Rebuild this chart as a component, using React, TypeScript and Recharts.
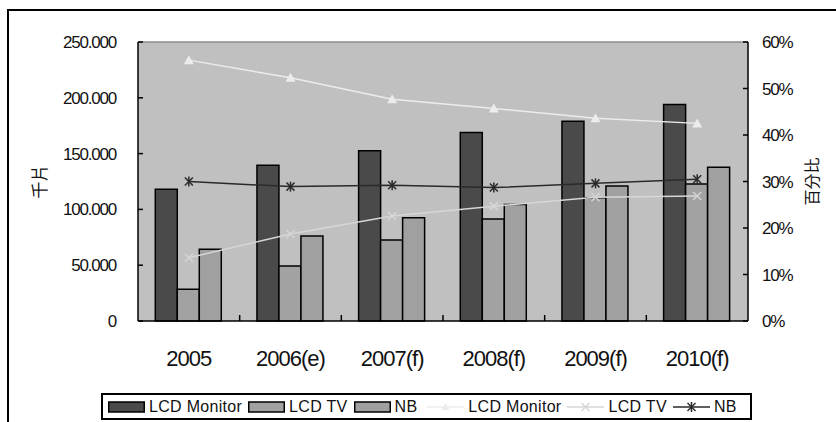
import {
  Bar,
  CartesianGrid,
  ComposedChart,
  Label,
  Legend,
  Line,
  ReferenceLine,
  XAxis,
  YAxis,
} from "recharts";

const years = ["2005", "2006(e)", "2007(f)", "2008(f)", "2009(f)", "2010(f)"];
// shipments, thousand pieces (left axis)
const monitorUnits = [118000, 139500, 152500, 169000, 179000, 194000];
const tvUnits = [28500, 49300, 72600, 91400, 110500, 122800];
const nbUnits = [64200, 76200, 92600, 104500, 121000, 137700];
// share, percent (right axis)
const monitorShare = [56.1, 52.3, 47.7, 45.7, 43.6, 42.5];
const tvShare = [13.6, 18.7, 22.6, 24.7, 26.6, 26.9];
const nbShare = [30.0, 28.9, 29.2, 28.7, 29.6, 30.5];

const unitTicks = [0, 50000, 100000, 150000, 200000, 250000];
const shareTicks = [0, 10, 20, 30, 40, 50, 60];

const seriesOrder = ["monitor", "tv", "nb", "monitorShare", "tvShare", "nbShare"];

const data = years.map((year, i) => ({
  year,
  monitor: monitorUnits[i],
  tv: tvUnits[i],
  nb: nbUnits[i],
  monitorShare: monitorShare[i],
  tvShare: tvShare[i],
  nbShare: nbShare[i],
}));

const FONT = '"Liberation Sans", Arial, sans-serif';
const CJK = '"Noto Sans CJK TC", "Noto Sans CJK SC", sans-serif';

const fmtUnits = (v: number) => v.toLocaleString("de-DE");

function YearTick(props: any) {
  const { x, y, payload, index } = props;
  const half = payload?.offset ?? 0;
  return (
    <g>
      {index > 0 && half > 0 && (
        <line x1={x - half} x2={x - half} y1={y} y2={y - 6} stroke="#000" strokeWidth={1.5} />
      )}
      <text x={x} y={y + 45} textAnchor="middle" fontSize={22} letterSpacing={-1} fontFamily={FONT} fill="#111">
        {payload.value}
      </text>
    </g>
  );
}

function Triangle({ cx, cy, fill, size = 5 }: any) {
  return <polygon points={`${cx},${cy - size} ${cx - size},${cy + size - 1} ${cx + size},${cy + size - 1}`} fill={fill} />;
}

function Cross({ cx, cy, stroke, size = 4 }: any) {
  return (
    <g stroke={stroke} strokeWidth={1.5}>
      <line x1={cx - size} y1={cy - size} x2={cx + size} y2={cy + size} />
      <line x1={cx - size} y1={cy + size} x2={cx + size} y2={cy - size} />
    </g>
  );
}

function Star({ cx, cy, stroke, size = 4 }: any) {
  return (
    <g stroke={stroke} strokeWidth={1.5}>
      <line x1={cx - size} y1={cy - size} x2={cx + size} y2={cy + size} />
      <line x1={cx - size} y1={cy + size} x2={cx + size} y2={cy - size} />
      <line x1={cx} y1={cy - size - 1} x2={cx} y2={cy + size + 1} />
    </g>
  );
}

const markerFor: Record<string, (p: any) => any> = {
  monitorShare: (p) => <Triangle {...p} />,
  tvShare: (p) => <Cross {...p} />,
  nbShare: (p) => <Star {...p} />,
};

function LegendBox(props: any) {
  const items = [...(props.payload ?? [])].sort(
    (a: any, b: any) => seriesOrder.indexOf(a.dataKey) - seriesOrder.indexOf(b.dataKey)
  );
  return (
    <div
      style={{
        height: 27,
        boxSizing: "border-box",
        border: "2px solid #000",
        display: "flex",
        alignItems: "center",
        paddingLeft: 5,
        background: "#fff",
        fontFamily: FONT,
        fontSize: 16,
        letterSpacing: 0.3,
        color: "#111",
        whiteSpace: "nowrap",
      }}
    >
      {items.map((it: any, i: number) => {
        const isLine = it.type === "line";
        const mark = markerFor[it.dataKey];
        return (
          <div key={i} style={{ display: "flex", alignItems: "center", marginRight: it.dataKey === "nb" ? 10 : 6 }}>
            <svg width={37} height={14} style={{ marginRight: 4 }}>
              {isLine ? (
                <g>
                  <line x1={0} x2={37} y1={7} y2={7} stroke={it.color} strokeWidth={1.5} />
                  {mark && mark({ cx: 18.5, cy: 7, fill: it.color, stroke: it.color, size: 4 })}
                </g>
              ) : (
                <rect x={0.75} y={2} width={35.5} height={10} fill={it.color} stroke="#000" strokeWidth={1.5} />
              )}
            </svg>
            <span>{it.value}</span>
          </div>
        );
      })}
    </div>
  );
}

export default function App() {
  return (
    <div
      style={{
        position: "fixed",
        left: 0,
        top: 0,
        width: 836,
        height: 422,
        overflow: "hidden",
        background: "#fff",
        fontFamily: FONT,
      }}
    >
      <div
        style={{
          position: "absolute",
          left: 7,
          top: 9,
          width: 900,
          height: 500,
          border: "2px solid #000",
          boxSizing: "border-box",
        }}
      />
      <div style={{ position: "absolute", left: 0, top: 0 }}>
        <ComposedChart
          width={836}
          height={422}
          data={data}
          margin={{ top: 42, right: 0, bottom: 2, left: 0 }}
          barCategoryGap="17%"
          barGap={0}
        >
          <CartesianGrid yAxisId="left" fill="#c0c0c0" horizontal={false} vertical={false} />
          <XAxis
            dataKey="year"
            height={72}
            tickSize={0}
            tickMargin={0}
            tickLine={false}
            axisLine={{ stroke: "#000", strokeWidth: 1.5 }}
            tick={<YearTick />}
            interval={0}
          />
          <YAxis
            yAxisId="left"
            width={138}
            domain={[0, 250000]}
            ticks={unitTicks}
            tickFormatter={fmtUnits}
            tickSize={-5}
            tickMargin={27}
            axisLine={{ stroke: "#000", strokeWidth: 1.5 }}
            tickLine={{ stroke: "#000", strokeWidth: 1.5 }}
            tick={{ fontSize: 17, fill: "#111", fontFamily: FONT, letterSpacing: -1.2 }}
          >
            <Label
              content={(p: any) => {
                const vb = p.viewBox;
                const cx = vb.x + 38;
                const cy = vb.y + vb.height / 2;
                return (
                  <text x={cx} y={cy} transform={`rotate(-90 ${cx} ${cy})`} textAnchor="middle" dominantBaseline="central" fontSize={17} fontFamily={CJK} fill="#111">
                    千片
                  </text>
                );
              }}
            />
          </YAxis>
          <YAxis
            yAxisId="right"
            orientation="right"
            width={88}
            domain={[0, 60]}
            ticks={shareTicks}
            tickFormatter={(v: number) => `${v}%`}
            tickSize={-5}
            tickMargin={19}
            axisLine={{ stroke: "#000", strokeWidth: 1.5 }}
            tickLine={{ stroke: "#000", strokeWidth: 1.5 }}
            tick={{ fontSize: 17, fill: "#111", fontFamily: FONT, letterSpacing: -1.2 }}
          >
            <Label
              content={(p: any) => {
                const vb = p.viewBox;
                const cx = vb.x + 63;
                const cy = vb.y + vb.height / 2;
                return (
                  <text x={cx} y={cy} transform={`rotate(-90 ${cx} ${cy})`} textAnchor="middle" dominantBaseline="central" fontSize={16} fontFamily={CJK} fill="#111">
                    百分比
                  </text>
                );
              }}
            />
          </YAxis>
          <ReferenceLine yAxisId="left" y={250000} stroke="#8c8c8c" strokeWidth={1.5} />
          <Legend
            verticalAlign="bottom"
            content={<LegendBox />}
            wrapperStyle={{ left: 101, bottom: 2, width: 651, height: 27 }}
          />
          <Bar yAxisId="left" dataKey="monitor" name="LCD Monitor" fill="#4a4a4a" stroke="#000" strokeWidth={1.5} legendType="rect" isAnimationActive={false} />
          <Bar yAxisId="left" dataKey="tv" name="LCD TV" fill="#a2a2a2" stroke="#000" strokeWidth={1.5} legendType="rect" isAnimationActive={false} />
          <Bar yAxisId="left" dataKey="nb" name="NB" fill="#a0a0a0" stroke="#000" strokeWidth={1.5} legendType="rect" isAnimationActive={false} />
          <Line
            yAxisId="right"
            dataKey="monitorShare"
            name="LCD Monitor"
            stroke="#ececec"
            strokeWidth={1.5}
            legendType="line"
            dot={(p: any) => <Triangle key={p.index} cx={p.cx} cy={p.cy} fill="#ececec" />}
            isAnimationActive={false}
          />
          <Line
            yAxisId="right"
            dataKey="tvShare"
            name="LCD TV"
            stroke="#d6d6d6"
            strokeWidth={1.5}
            legendType="line"
            dot={(p: any) => <Cross key={p.index} cx={p.cx} cy={p.cy} stroke="#d6d6d6" />}
            isAnimationActive={false}
          />
          <Line
            yAxisId="right"
            dataKey="nbShare"
            name="NB"
            stroke="#2a2a2a"
            strokeWidth={1.5}
            legendType="line"
            dot={(p: any) => <Star key={p.index} cx={p.cx} cy={p.cy} stroke="#2a2a2a" />}
            isAnimationActive={false}
          />
        </ComposedChart>
      </div>
    </div>
  );
}
